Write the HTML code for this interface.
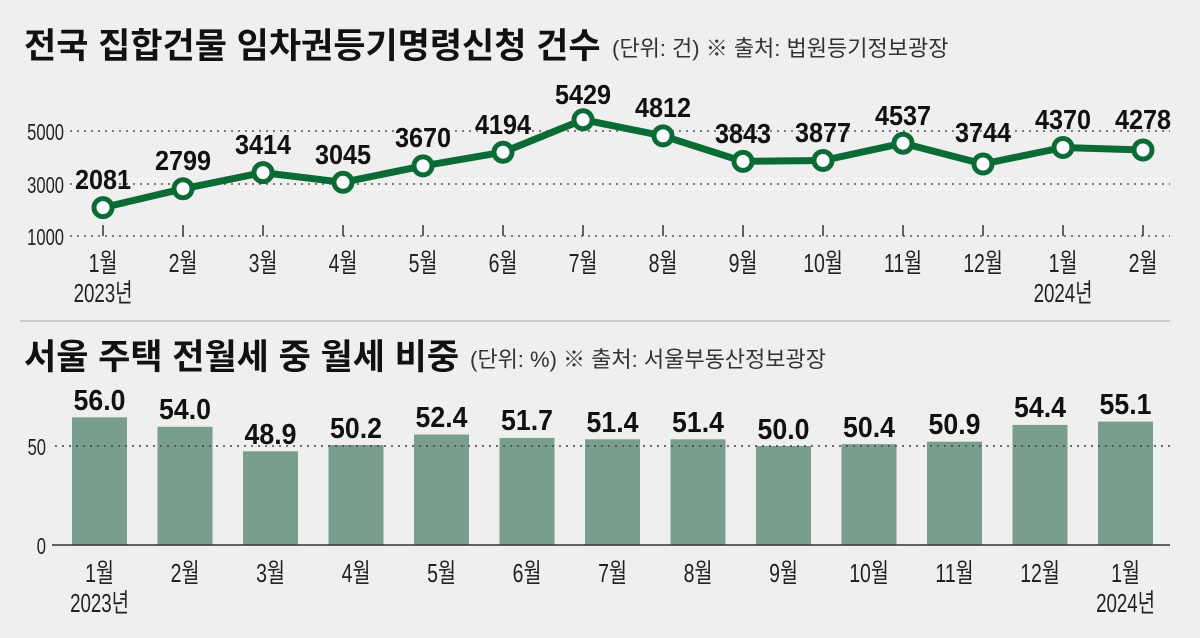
<!DOCTYPE html>
<html><head><meta charset="utf-8"><style>
html,body{margin:0;padding:0;background:#efefef;}
svg{display:block;font-family:"Liberation Sans","Noto Sans CJK KR",sans-serif;}
</style></head><body>
<svg width="1200" height="638" viewBox="0 0 1200 638" xmlns="http://www.w3.org/2000/svg">
<rect width="1200" height="638" fill="#efefef"/>
<text x="24" y="58" font-size="35" font-weight="bold" fill="#111">전국 집합건물 임차권등기명령신청 건수</text>
<text x="612" y="56" font-size="22" fill="#333">(단위: 건) ※ 출처: 법원등기정보광장</text>
<g stroke="#555" stroke-width="1.6" stroke-dasharray="2,5">
<line x1="70" y1="131" x2="1170" y2="131"/><line x1="70" y1="184" x2="1170" y2="184"/><line x1="70" y1="236" x2="1170" y2="236"/>
</g>
<g font-size="23" fill="#222" text-anchor="end">
<text transform="translate(64,140) scale(0.72,1)">5000</text>
<text transform="translate(64,193) scale(0.72,1)">3000</text>
<text transform="translate(64,245) scale(0.72,1)">1000</text>
</g>
<g stroke="#333" stroke-width="1.5">
<line x1="103" y1="225" x2="103" y2="236"/><line x1="183" y1="225" x2="183" y2="236"/><line x1="263" y1="225" x2="263" y2="236"/><line x1="343" y1="225" x2="343" y2="236"/><line x1="423" y1="225" x2="423" y2="236"/><line x1="503" y1="225" x2="503" y2="236"/><line x1="583" y1="225" x2="583" y2="236"/><line x1="663" y1="225" x2="663" y2="236"/><line x1="743" y1="225" x2="743" y2="236"/><line x1="823" y1="225" x2="823" y2="236"/><line x1="903" y1="225" x2="903" y2="236"/><line x1="983" y1="225" x2="983" y2="236"/><line x1="1063" y1="225" x2="1063" y2="236"/><line x1="1143" y1="225" x2="1143" y2="236"/>
</g>
<polyline fill="none" stroke="#0b6b35" stroke-width="7" stroke-linejoin="round" points="103,207.6 183,188.8 263,172.6 343,182.3 423,165.9 503,152.2 583,119.7 663,135.9 743,161.4 823,160.5 903,143.2 983,164 1063,147.5 1143,150"/>
<g fill="#fff" stroke="#0b6b35" stroke-width="5">
<circle cx="103" cy="207.6" r="9"/><circle cx="183" cy="188.8" r="9"/><circle cx="263" cy="172.6" r="9"/><circle cx="343" cy="182.3" r="9"/><circle cx="423" cy="165.9" r="9"/><circle cx="503" cy="152.2" r="9"/><circle cx="583" cy="119.7" r="9"/><circle cx="663" cy="135.9" r="9"/><circle cx="743" cy="161.4" r="9"/><circle cx="823" cy="160.5" r="9"/><circle cx="903" cy="143.2" r="9"/><circle cx="983" cy="164" r="9"/><circle cx="1063" cy="147.5" r="9"/><circle cx="1143" cy="150" r="9"/>
</g>
<g font-size="28" font-weight="bold" fill="#111" text-anchor="middle">
<text transform="translate(103,189) scale(0.9,1)">2081</text>
<text transform="translate(183,170) scale(0.9,1)">2799</text>
<text transform="translate(263,154) scale(0.9,1)">3414</text>
<text transform="translate(343,164) scale(0.9,1)">3045</text>
<text transform="translate(423,147) scale(0.9,1)">3670</text>
<text transform="translate(503,134) scale(0.9,1)">4194</text>
<text transform="translate(583,104) scale(0.9,1)">5429</text>
<text transform="translate(663,117) scale(0.9,1)">4812</text>
<text transform="translate(743,143) scale(0.9,1)">3843</text>
<text transform="translate(823,142) scale(0.9,1)">3877</text>
<text transform="translate(903,125) scale(0.9,1)">4537</text>
<text transform="translate(983,142) scale(0.9,1)">3744</text>
<text transform="translate(1063,129) scale(0.9,1)">4370</text>
<text transform="translate(1143,129) scale(0.9,1)">4278</text>
</g>
<g font-size="26" fill="#222" text-anchor="middle">
<text transform="translate(103,272) scale(0.75,1)">1월</text><text transform="translate(183,272) scale(0.75,1)">2월</text><text transform="translate(263,272) scale(0.75,1)">3월</text><text transform="translate(343,272) scale(0.75,1)">4월</text><text transform="translate(423,272) scale(0.75,1)">5월</text><text transform="translate(503,272) scale(0.75,1)">6월</text><text transform="translate(583,272) scale(0.75,1)">7월</text><text transform="translate(663,272) scale(0.75,1)">8월</text><text transform="translate(743,272) scale(0.75,1)">9월</text><text transform="translate(823,272) scale(0.75,1)">10월</text><text transform="translate(903,272) scale(0.75,1)">11월</text><text transform="translate(983,272) scale(0.75,1)">12월</text><text transform="translate(1063,272) scale(0.75,1)">1월</text><text transform="translate(1143,272) scale(0.75,1)">2월</text>
<text transform="translate(103,302) scale(0.72,1)">2023년</text><text transform="translate(1063,302) scale(0.72,1)">2024년</text>
</g>
<line x1="20" y1="321" x2="1170" y2="321" stroke="#ccc" stroke-width="2"/>
<text x="24" y="369" font-size="35" font-weight="bold" fill="#111">서울 주택 전월세 중 월세 비중</text>
<text x="470" y="367" font-size="22" fill="#333">(단위: %) ※ 출처: 서울부동산정보광장</text>
<g fill="#7a9e8e">
<rect x="72" y="417.3" width="55" height="127.7"/><rect x="157.5" y="426.8" width="55" height="118.2"/><rect x="243" y="451.3" width="55" height="93.7"/><rect x="328.5" y="445" width="55" height="100"/><rect x="414" y="434.5" width="55" height="110.5"/><rect x="499.5" y="437.9" width="55" height="107.1"/><rect x="585" y="439.3" width="55" height="105.7"/><rect x="670.5" y="439.3" width="55" height="105.7"/><rect x="756" y="446" width="55" height="99"/><rect x="841.5" y="444.1" width="55" height="100.9"/><rect x="927" y="441.7" width="55" height="103.3"/><rect x="1012.5" y="424.9" width="55" height="120.1"/><rect x="1098" y="421.6" width="55" height="123.4"/>
</g>
<line x1="55" y1="446" x2="1170" y2="446" stroke="#444" stroke-width="1.6" stroke-dasharray="2,5"/>
<line x1="52" y1="545" x2="1170" y2="545" stroke="#333" stroke-width="1.6"/>
<g font-size="23" fill="#222" text-anchor="end">
<text transform="translate(46,455) scale(0.72,1)">50</text>
<text transform="translate(46,554) scale(0.72,1)">0</text>
</g>
<g font-size="29" font-weight="bold" fill="#111" text-anchor="middle">
<text transform="translate(99.5,410) scale(0.92,1)">56.0</text><text transform="translate(185,419) scale(0.92,1)">54.0</text><text transform="translate(270.5,444) scale(0.92,1)">48.9</text><text transform="translate(356,438) scale(0.92,1)">50.2</text><text transform="translate(441.5,427) scale(0.92,1)">52.4</text><text transform="translate(527,430) scale(0.92,1)">51.7</text><text transform="translate(612.5,432) scale(0.92,1)">51.4</text><text transform="translate(698,432) scale(0.92,1)">51.4</text><text transform="translate(783.5,439) scale(0.92,1)">50.0</text><text transform="translate(869,437) scale(0.92,1)">50.4</text><text transform="translate(954.5,434) scale(0.92,1)">50.9</text><text transform="translate(1040,417) scale(0.92,1)">54.4</text><text transform="translate(1125.5,414) scale(0.92,1)">55.1</text>
</g>
<g font-size="26" fill="#222" text-anchor="middle">
<text transform="translate(99.5,582) scale(0.75,1)">1월</text><text transform="translate(185,582) scale(0.75,1)">2월</text><text transform="translate(270.5,582) scale(0.75,1)">3월</text><text transform="translate(356,582) scale(0.75,1)">4월</text><text transform="translate(441.5,582) scale(0.75,1)">5월</text><text transform="translate(527,582) scale(0.75,1)">6월</text><text transform="translate(612.5,582) scale(0.75,1)">7월</text><text transform="translate(698,582) scale(0.75,1)">8월</text><text transform="translate(783.5,582) scale(0.75,1)">9월</text><text transform="translate(869,582) scale(0.75,1)">10월</text><text transform="translate(954.5,582) scale(0.75,1)">11월</text><text transform="translate(1040,582) scale(0.75,1)">12월</text><text transform="translate(1125.5,582) scale(0.75,1)">1월</text>
<text transform="translate(99.5,612) scale(0.72,1)">2023년</text><text transform="translate(1125.5,612) scale(0.72,1)">2024년</text>
</g>
</svg>
</body></html>
